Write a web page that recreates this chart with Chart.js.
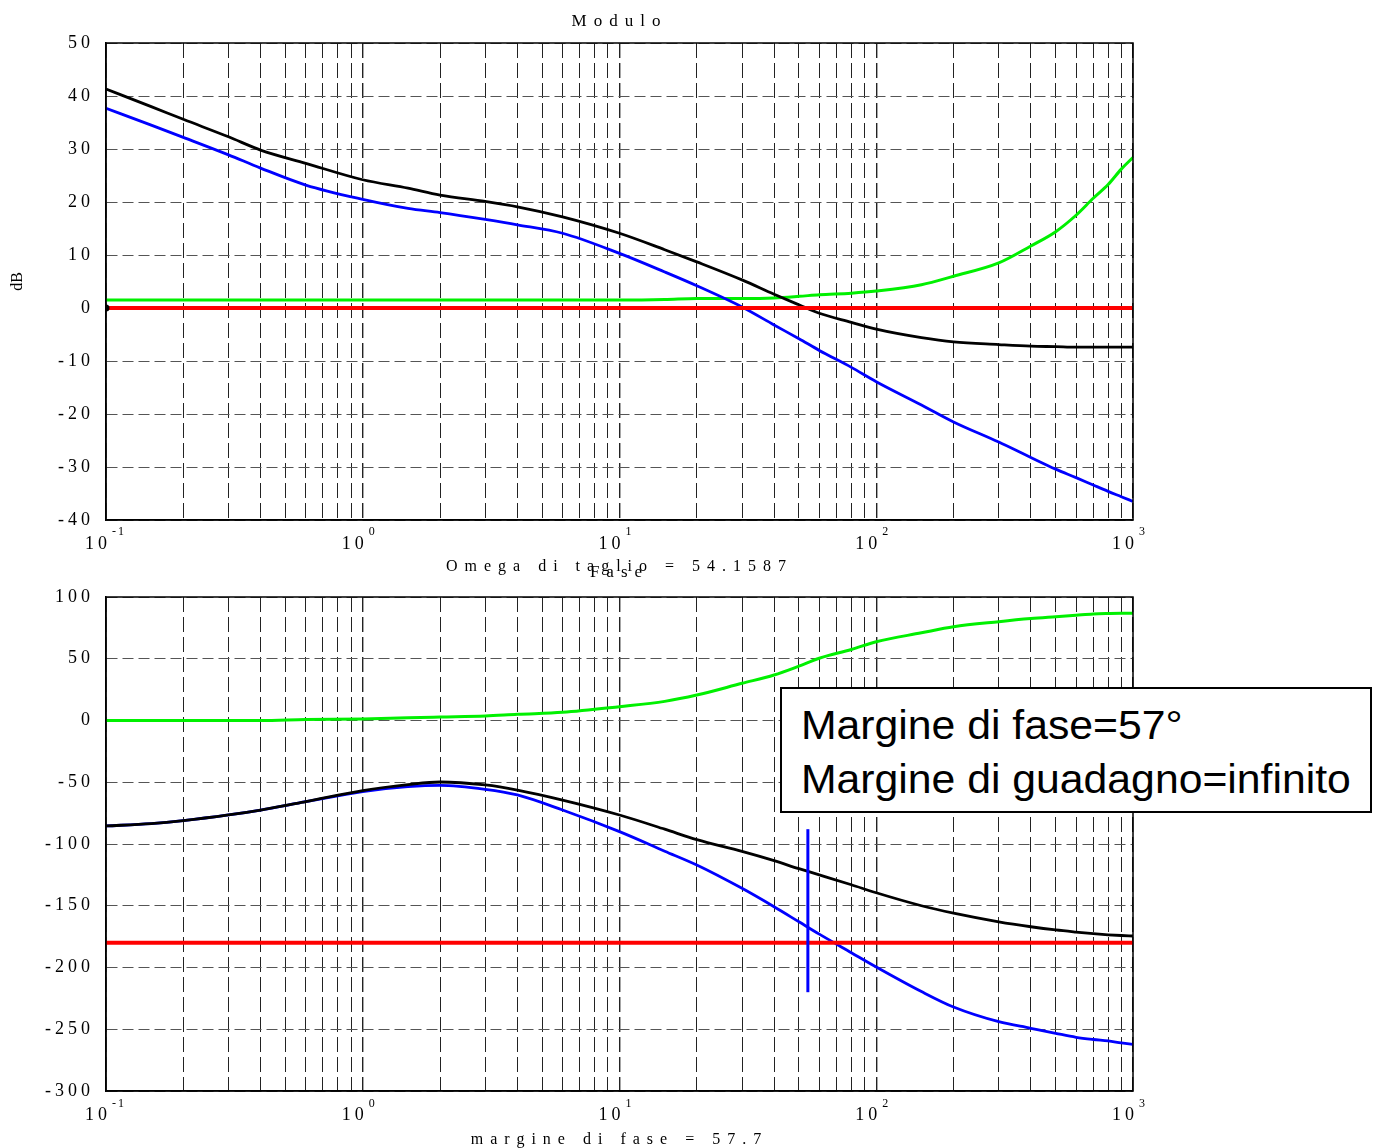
<!DOCTYPE html>
<html>
<head>
<meta charset="utf-8">
<script src="https://cdn.jsdelivr.net/npm/chart.js@4/dist/chart.umd.min.js"></script>
<style>
html, body { margin:0; padding:0; background:#fff; width:1378px; height:1148px; overflow:hidden; position:relative; }
canvas { position:absolute; left:0; }
#cTop { top:0; }
#cBot { top:548px; }
#note { position:absolute; left:780px; top:687px; width:588px; height:122px; border:2px solid #000; background:#fff;
        font-family:"Liberation Sans", Arial, sans-serif; font-size:40px; color:#000; }
#note div { position:absolute; left:19px; line-height:1; white-space:nowrap; transform-origin:left top; transform:scaleX(1.068); }
</style>
</head>
<body>
<canvas id="cTop" width="1378" height="590"></canvas>
<canvas id="cBot" width="1378" height="612"></canvas>
<div id="note"><div style="top:16px">Margine di fase=57°</div><div style="top:70px">Margine di guadagno=infinito</div></div>
<script>
// ---------------- data ----------------
const omega = [0.1, 0.15, 0.2, 0.3, 0.4, 0.6, 1, 1.5, 2, 3, 4, 6, 10, 15, 20, 30, 40, 50, 60, 80, 100, 150, 200, 300, 400, 500, 600, 700, 800, 900, 1000];

// Modulo (dB)
const magBlack = [41.3, 38.0, 35.6, 32.3, 29.8, 27.3, 24.2, 22.6, 21.3, 20.1, 19.1, 17.2, 14.1, 11.0, 8.7, 5.3, 2.6, 0.6, -1.0, -2.7, -4.0, -5.6, -6.4, -6.9, -7.2, -7.3, -7.4, -7.4, -7.4, -7.4, -7.4];
const magBlue  = [37.7, 34.5, 32.2, 28.9, 26.4, 23.2, 20.5, 18.8, 18.0, 16.7, 15.7, 14.1, 10.3, 6.8, 4.2, 0.2, -3.2, -5.8, -8.0, -11.2, -13.9, -18.3, -21.5, -25.3, -28.2, -30.4, -32.0, -33.4, -34.6, -35.6, -36.5];
const magGreen = [1.5, 1.5, 1.5, 1.5, 1.5, 1.5, 1.5, 1.5, 1.5, 1.5, 1.5, 1.5, 1.5, 1.6, 1.8, 1.8, 1.9, 2.2, 2.5, 2.8, 3.2, 4.4, 6.0, 8.5, 11.7, 14.4, 17.5, 20.7, 23.3, 26.2, 28.4];

// Fase (gradi)
const phaseBlack = [-85.4, -83.5, -81.1, -76.5, -72.5, -65.7, -56.8, -52.0, -49.8, -52.2, -56.3, -64.4, -76.5, -88.0, -96.5, -106.0, -113.5, -120.0, -125.0, -133.0, -139.5, -150.0, -156.0, -163.0, -167.0, -169.6, -171.3, -172.6, -173.5, -174.1, -174.5];
const phaseBlue  = [-85.4, -83.5, -81.1, -76.5, -72.5, -65.7, -57.5, -53.6, -52.5, -55.7, -60.3, -72.5, -90.0, -105.8, -117.0, -135.9, -150.8, -163.0, -173.0, -188.0, -199.6, -219.5, -232.0, -243.9, -249.2, -253.3, -256.5, -258.3, -259.5, -261.0, -262.2];
const phaseGreen = [0, 0, 0, 0, 0, 0.8, 1.2, 2.2, 2.8, 3.6, 5.0, 6.6, 11.2, 15.5, 20.6, 30.1, 36.8, 44.0, 50.4, 57.5, 63.8, 71.0, 75.9, 80.0, 82.5, 84.0, 85.2, 86.2, 86.6, 86.8, 86.8];

// reference lines and markers
const refOmega = [0.1, 1000];
const refMag = [0, 0];
const refPhase = [-180, -180];
const crossOmega = 54.1587;
const phaseMargin = 57.7;
const markerPhase = [-88, -220];
const startDot = [0];

// axes
const decades = [0.1, 1, 10, 100, 1000];
const decadeExponents = ['-1', '0', '1', '2', '3'];
const minorMultipliers = [1, 2, 3, 4, 5, 6, 7, 8, 9];
const magTicks = { min: -40, max: 50, step: 10 };
const phaseTicks = { min: -300, max: 100, step: 50 };

// ---------------- helpers ----------------
const pts = (xs, ys) => xs.map((x, i) => ({ x: x, y: ys[i] }));
const xGridValues = [];
decades.slice(0, -1).forEach(d => minorMultipliers.forEach(m => xGridValues.push(+(d * m).toPrecision(6))));
xGridValues.push(decades[decades.length - 1]);

const SERIF = '"Liberation Serif", "Times New Roman", serif';
Chart.defaults.font.family = SERIF;
Chart.defaults.color = '#000';

function line(data, color, width) {
  return { data, borderColor: color, backgroundColor: color, borderWidth: width, pointRadius: 0,
           cubicInterpolationMode: 'monotone', fill: false };
}

const spacingPlugin = {
  id: 'spacing',
  beforeDraw(chart) {
    chart.ctx.letterSpacing = '7px';
    Object.values(chart.scales).forEach(s => {
      if (s._spPatched) return;
      s._spPatched = true;
      const dl = s.drawLabels, dt = s.drawTitle;
      s.drawLabels = function (a) { const c = this.ctx; c.save(); c.letterSpacing = '4px'; dl.call(this, a); c.restore(); };
      s.drawTitle = function () { const c = this.ctx; c.save(); c.letterSpacing = this.axis === 'y' ? '0px' : '7px'; dt.call(this); c.restore(); };
    });
  },
  afterDraw(chart) { chart.ctx.letterSpacing = '0px'; }
};

const framePlugin = {
  id: 'frame',
  afterDraw(chart) {
    const { ctx, chartArea: a } = chart;
    ctx.save();
    ctx.letterSpacing = '0px';
    ctx.strokeStyle = '#000';
    ctx.lineWidth = 1.5;
    ctx.strokeRect(a.left, a.top, a.right - a.left, a.bottom - a.top);
    // decade tick labels 10^n
    const xs = chart.scales.x;
    const expY = chart.options.plugins.decadeLabels.expOffset;
    ctx.fillStyle = '#000';
    ctx.textBaseline = 'alphabetic';
    decades.forEach((v, i) => {
      const px = xs.getPixelForValue(v);
      ctx.font = '18px ' + SERIF;
      ctx.letterSpacing = '4px';
      ctx.textAlign = 'right';
      ctx.fillText('10', px + 5, a.bottom + 29);
      ctx.font = '12px ' + SERIF;
      ctx.letterSpacing = '2px';
      ctx.textAlign = 'left';
      ctx.fillText(decadeExponents[i], px + 6, a.bottom + expY);
    });
    ctx.restore();
  }
};

function makeChart(id, cfg) {
  const H = document.getElementById(id).height;
  return new Chart(document.getElementById(id), {
    type: 'line',
    data: { datasets: cfg.datasets },
    plugins: [spacingPlugin, framePlugin],
    options: {
      responsive: false, animation: false, devicePixelRatio: 1,
      layout: { padding: { left: 0, right: 245, top: 0, bottom: 0 } },
      plugins: {
        legend: { display: false }, tooltip: { enabled: false },
        title: { display: true, text: cfg.title, fullSize: false, color: '#000',
                 font: { family: SERIF, size: 17, weight: 'normal' }, padding: cfg.titlePad },
        decadeLabels: { expOffset: cfg.expOffset }
      },
      scales: {
        x: {
          type: 'logarithmic', min: decades[0], max: decades[decades.length - 1],
          afterBuildTicks: s => { s.ticks = xGridValues.map(v => ({ value: v })); },
          afterFit: s => { s.height = H - cfg.plotBottom; },
          ticks: { display: false },
          grid: { color: '#222', drawTicks: false,
                  lineWidth: c => (c.tick && decades.includes(c.tick.value)) ? 1.4 : 1 },
          border: { display: true, color: '#000', width: 1.5, dash: [15, 5] },
          title: { display: true, text: cfg.xTitle, color: '#000',
                   font: { family: SERIF, size: 16 }, padding: { top: 0, bottom: cfg.xTitlePad } }
        },
        y: {
          min: cfg.ticks.min, max: cfg.ticks.max,
          afterFit: s => { s.width = 106; },
          ticks: { stepSize: cfg.ticks.step, padding: 12, color: '#000', font: { family: SERIF, size: 18 } },
          grid: { color: '#555', drawTicks: false, lineWidth: 1 },
          border: { display: true, color: '#000', width: 1.5, dash: [11, 5] },
          title: { display: !!cfg.yTitle, text: cfg.yTitle || '', color: '#000',
                   font: { family: SERIF, size: 16 }, padding: { top: 8.4, bottom: 0 } }
        }
      }
    }
  });
}

makeChart('cTop', {
  title: 'Modulo',
  titlePad: { top: 11.5, bottom: 11.1 },
  xTitle: 'Omega di taglio = ' + crossOmega,
  xTitlePad: 13.4,
  yTitle: 'dB',
  plotBottom: 520,
  expOffset: 15,
  ticks: magTicks,
  datasets: [
    { data: pts([refOmega[0]], startDot), showLine: false, pointRadius: 3.5, pointBackgroundColor: '#000', pointBorderColor: '#000', borderWidth: 0 },
    line(pts(refOmega, refMag), '#ff0000', 4),
    line(pts(omega, magBlack), '#000000', 2.8),
    line(pts(omega, magBlue), '#0000ff', 2.8),
    line(pts(omega, magGreen), '#00f000', 3)
  ]
});

makeChart('cBot', {
  title: 'Fase',
  titlePad: { top: 13.9, bottom: 14.7 },
  xTitle: 'margine di fase = ' + phaseMargin,
  xTitlePad: 10.4,
  yTitle: '',
  plotBottom: 543,
  expOffset: 16,
  ticks: phaseTicks,
  datasets: [
    line(pts([crossOmega, crossOmega], markerPhase), '#0000ff', 3),
    line(pts(refOmega, refPhase), '#ff0000', 4),
    line(pts(omega, phaseBlack), '#000000', 2.8),
    line(pts(omega, phaseBlue), '#0000ff', 2.8),
    line(pts(omega, phaseGreen), '#00f000', 3)
  ]
});
</script>
</body>
</html>
